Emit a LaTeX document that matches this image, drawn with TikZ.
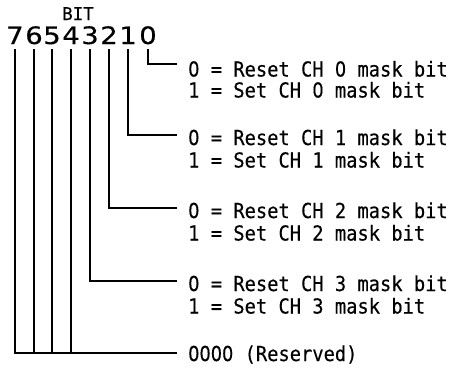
\documentclass[tikz,border=0pt]{standalone}
\usepackage{fontspec}
\newfontfamily\labelfont[FakeStretch=0.91,FakeBold=0.3]{DejaVu Sans Mono}
\newfontfamily\plainzero[FakeStretch=0.86,FakeBold=0.3]{DejaVu Sans}
\newfontfamily\bitfont[FakeStretch=1.15,FakeBold=0.3]{DejaVu Sans}
\newfontfamily\headfont[FakeStretch=1.0,FakeBold=0.3]{DejaVu Sans Mono}
% an open zero set in the width of one monospaced cell
\newcommand\zr{\makebox[\fontcharwd\font`1]{\plainzero 0}}
\begin{document}
\begin{tikzpicture}[x=1pt,y=-1pt,
  wire/.style={line width=2pt, line cap=rect},
  bitnum/.style={anchor=base, inner sep=0pt, font=\bitfont\fontsize{24}{26}\selectfont},
  desc/.style={anchor=base west, inner sep=0pt, font=\labelfont\fontsize{20.6}{22}\selectfont},
  head/.style={anchor=base, inner sep=0pt, font=\headfont\fontsize{17.5}{19}\selectfont}]
\useasboundingbox (0,0) rectangle (452,368);

% header and bit numbers
\node[head] (bit) at (78,20) {BIT};
\foreach \n/\x in {7/15,6/34,5/52,4/71,3/90,2/109,1/128,0/148}{
  \node[bitnum] (b\n) at (\x,44) {\n};
  \coordinate (t\n) at (\x,50);
}

% field descriptions
\node[desc] (r0) at (188,76.5)  {\zr{} = Reset CH \zr{} mask bit};
\node[desc] (s0) at (188,97.5)  {1 = Set CH \zr{} mask bit};
\node[desc] (r1) at (188,145)   {\zr{} = Reset CH 1 mask bit};
\node[desc] (s1) at (188,167.5) {1 = Set CH 1 mask bit};
\node[desc] (r2) at (188,218)   {\zr{} = Reset CH 2 mask bit};
\node[desc] (s2) at (188,240.5) {1 = Set CH 2 mask bit};
\node[desc] (r3) at (188,291)   {\zr{} = Reset CH 3 mask bit};
\node[desc] (s3) at (188,313.5) {1 = Set CH 3 mask bit};
\node[desc] (rv) at (188,361)   {\zr\zr\zr\zr{} (Reserved)};

% lead line ends
\coordinate (e0) at (176,64);
\coordinate (e1) at (176,135);
\coordinate (e2) at (176,208);
\coordinate (e3) at (176,281);
\coordinate (ev) at (176,353);

% leads from bits 0-3
\draw[wire] (t0) |- (e0);
\draw[wire] (t1) |- (e1);
\draw[wire] (t2) |- (e2);
\draw[wire] (t3) |- (e3);

% bits 7-4 share one lead
\draw[wire] (t7) |- (ev);
\draw[wire] (t6) -- (t6 |- ev);
\draw[wire] (t5) -- (t5 |- ev);
\draw[wire] (t4) -- (t4 |- ev);
\end{tikzpicture}
\end{document}
